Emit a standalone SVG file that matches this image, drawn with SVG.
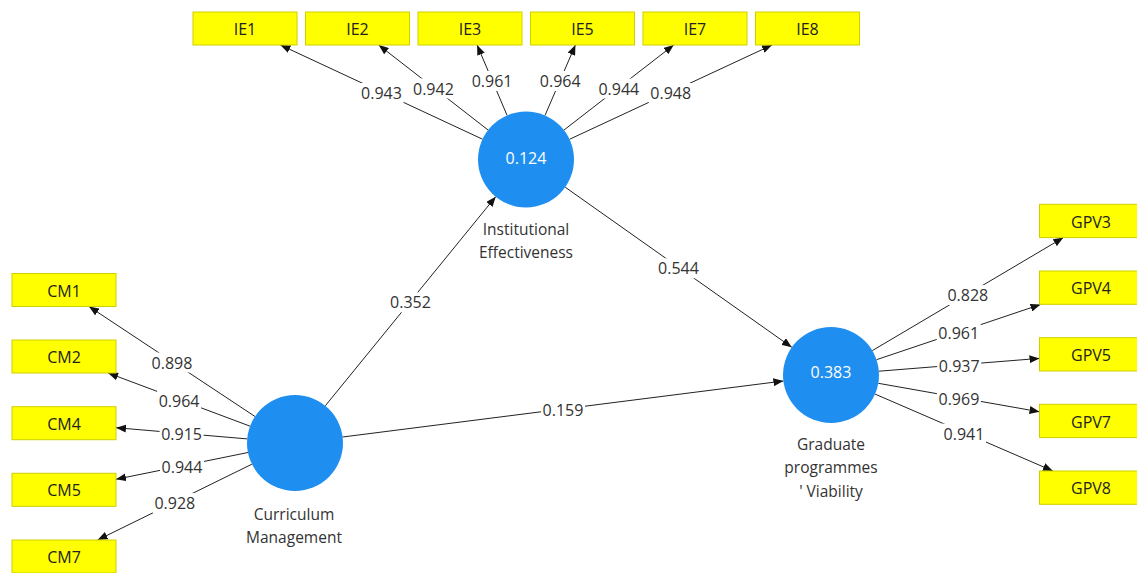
<svg xmlns="http://www.w3.org/2000/svg" width="1137" height="573" viewBox="0 0 1137 573">
<defs>
<marker id="ah" viewBox="0 0 10 8" refX="10" refY="4" markerWidth="10" markerHeight="8" markerUnits="userSpaceOnUse" orient="auto">
<path d="M0,0 L10,4 L0,8 z" fill="#111"/>
</marker>
<style>
.ind rect{fill:#ffff00;stroke:#cfcf00;stroke-width:1}
.ind text{font-family:"Open Sans","Noto Sans",sans-serif;font-size:16px;fill:#222;text-anchor:middle;dominant-baseline:central}
.lat circle{fill:#1e8ff0}
.lat .val{font-family:"Open Sans","Noto Sans",sans-serif;font-size:16px;fill:#ffffff;text-anchor:middle;dominant-baseline:central}
.lat .name{font-family:"Open Sans","Noto Sans",sans-serif;font-size:15.5px;fill:#333;text-anchor:middle}
.edge{stroke:#222;stroke-width:1;fill:none;marker-end:url(#ah)}
.lblbg{fill:#ffffff}
.lbl{font-family:"Open Sans","Noto Sans",sans-serif;font-size:16px;fill:#333;text-anchor:middle;dominant-baseline:central}
</style>
</defs>
<rect x="0" y="0" width="1137" height="573" fill="#ffffff"/>

<g id="connectors">
<line class="edge" x1="482.5" y1="139.2" x2="280.4" y2="45"/>
<line class="edge" x1="488.1" y1="130" x2="378.7" y2="45"/>
<line class="edge" x1="507.1" y1="115.4" x2="477.1" y2="45"/>
<line class="edge" x1="545" y1="115.4" x2="575.4" y2="45"/>
<line class="edge" x1="563.9" y1="130.1" x2="673.7" y2="45"/>
<line class="edge" x1="569.5" y1="139.3" x2="772" y2="45"/>
<line class="edge" x1="255" y1="416.5" x2="89" y2="306.5"/>
<line class="edge" x1="250.1" y1="426.2" x2="108.1" y2="373"/>
<line class="edge" x1="247.2" y1="438.9" x2="116" y2="427.7"/>
<line class="edge" x1="248" y1="452.5" x2="116" y2="479.3"/>
<line class="edge" x1="251.9" y1="464.2" x2="97.6" y2="540"/>
<line class="edge" x1="872.3" y1="350.6" x2="1063.4" y2="237.6"/>
<line class="edge" x1="876.5" y1="359.7" x2="1040.5" y2="304.5"/>
<line class="edge" x1="878.9" y1="371.2" x2="1039.5" y2="358.4"/>
<line class="edge" x1="878.3" y1="383.3" x2="1039.5" y2="411.8"/>
<line class="edge" x1="875.1" y1="394.1" x2="1052.9" y2="471"/>
<line class="edge" x1="325.3" y1="405.8" x2="495.7" y2="196.7"/>
<line class="edge" x1="342.6" y1="437" x2="783.4" y2="381"/>
<line class="edge" x1="565.2" y1="187.2" x2="791.8" y2="347.3"/>
<g id="edge-labels">
<rect class="lblbg" x="359.5" y="83" width="44" height="20"/><text class="lbl" x="381.5" y="93">0.943</text>
<rect class="lblbg" x="411.4" y="78.5" width="44" height="20"/><text class="lbl" x="433.4" y="88.5">0.942</text>
<rect class="lblbg" x="470.1" y="71" width="44" height="20"/><text class="lbl" x="492.1" y="81">0.961</text>
<rect class="lblbg" x="538.2" y="71" width="44" height="20"/><text class="lbl" x="560.2" y="81">0.964</text>
<rect class="lblbg" x="596.8" y="78.5" width="44" height="20"/><text class="lbl" x="618.8" y="88.5">0.944</text>
<rect class="lblbg" x="648.7" y="83" width="44" height="20"/><text class="lbl" x="670.7" y="93">0.948</text>
<rect class="lblbg" x="150" y="352.5" width="44" height="20"/><text class="lbl" x="172" y="362.5">0.898</text>
<rect class="lblbg" x="157.1" y="390.6" width="44" height="20"/><text class="lbl" x="179.1" y="400.6">0.964</text>
<rect class="lblbg" x="159.6" y="424.3" width="44" height="20"/><text class="lbl" x="181.6" y="434.3">0.915</text>
<rect class="lblbg" x="160" y="456.9" width="44" height="20"/><text class="lbl" x="182" y="466.9">0.944</text>
<rect class="lblbg" x="152.8" y="493.1" width="44" height="20"/><text class="lbl" x="174.8" y="503.1">0.928</text>
<rect class="lblbg" x="945.8" y="285.1" width="44" height="20"/><text class="lbl" x="967.8" y="295.1">0.828</text>
<rect class="lblbg" x="936.7" y="323" width="44" height="20"/><text class="lbl" x="958.7" y="333">0.961</text>
<rect class="lblbg" x="937.2" y="355.8" width="44" height="20"/><text class="lbl" x="959.2" y="365.8">0.937</text>
<rect class="lblbg" x="936.9" y="388.5" width="44" height="20"/><text class="lbl" x="958.9" y="398.5">0.969</text>
<rect class="lblbg" x="942" y="423.6" width="44" height="20"/><text class="lbl" x="964" y="433.6">0.941</text>
<rect class="lblbg" x="388.5" y="292.3" width="44" height="20"/><text class="lbl" x="410.5" y="302.3">0.352</text>
<rect class="lblbg" x="541" y="400" width="44" height="20"/><text class="lbl" x="563" y="410">0.159</text>
<rect class="lblbg" x="656.5" y="258.3" width="44" height="20"/><text class="lbl" x="678.5" y="268.3">0.544</text>
</g>
</g>

<g id="IE1" class="ind"><rect x="193" y="12" width="104" height="33"/><text x="245" y="29">IE1</text></g>
<g id="IE2" class="ind"><rect x="305.5" y="12" width="104" height="33"/><text x="357.5" y="29">IE2</text></g>
<g id="IE3" class="ind"><rect x="418" y="12" width="104" height="33"/><text x="470" y="29">IE3</text></g>
<g id="IE5" class="ind"><rect x="530.5" y="12" width="104" height="33"/><text x="582.5" y="29">IE5</text></g>
<g id="IE7" class="ind"><rect x="643" y="12" width="104" height="33"/><text x="695" y="29">IE7</text></g>
<g id="IE8" class="ind"><rect x="755.5" y="12" width="104" height="33"/><text x="807.5" y="29">IE8</text></g>

<g id="CM1" class="ind"><rect x="12" y="273.5" width="104" height="33"/><text x="64" y="290.5">CM1</text></g>
<g id="CM2" class="ind"><rect x="12" y="340" width="104" height="33"/><text x="64" y="357">CM2</text></g>
<g id="CM4" class="ind"><rect x="12" y="406.7" width="104" height="33"/><text x="64" y="423.7">CM4</text></g>
<g id="CM5" class="ind"><rect x="12" y="473.3" width="104" height="33"/><text x="64" y="490.3">CM5</text></g>
<g id="CM7" class="ind"><rect x="12" y="540" width="104" height="33"/><text x="64" y="557">CM7</text></g>

<g id="GPV3" class="ind"><rect x="1039.5" y="204.3" width="104" height="33.3"/><text x="1091" y="221.5">GPV3</text></g>
<g id="GPV4" class="ind"><rect x="1039.5" y="271" width="104" height="33.3"/><text x="1091" y="288">GPV4</text></g>
<g id="GPV5" class="ind"><rect x="1039.5" y="337.7" width="104" height="33.3"/><text x="1091" y="354.5">GPV5</text></g>
<g id="GPV7" class="ind"><rect x="1039.5" y="404.3" width="104" height="33.3"/><text x="1091" y="421.5">GPV7</text></g>
<g id="GPV8" class="ind"><rect x="1039.5" y="471" width="104" height="33.3"/><text x="1091" y="488">GPV8</text></g>

<g id="IE" class="lat">
<circle cx="526" cy="159.5" r="48"/>
<text class="val" x="526" y="158">0.124</text>
<text class="name" x="526" y="235">Institutional</text>
<text class="name" x="526" y="258">Effectiveness</text>
</g>
<g id="CM" class="lat">
<circle cx="295" cy="443" r="48"/>
<text class="name" x="294" y="520">Curriculum</text>
<text class="name" x="294" y="543">Management</text>
</g>
<g id="GPV" class="lat">
<circle cx="831" cy="375" r="48"/>
<text class="val" x="831" y="372">0.383</text>
<text class="name" x="831" y="450">Graduate</text>
<text class="name" x="831" y="473">programmes</text>
<text class="name" x="831" y="497">' Viability</text>
</g>
</svg>
